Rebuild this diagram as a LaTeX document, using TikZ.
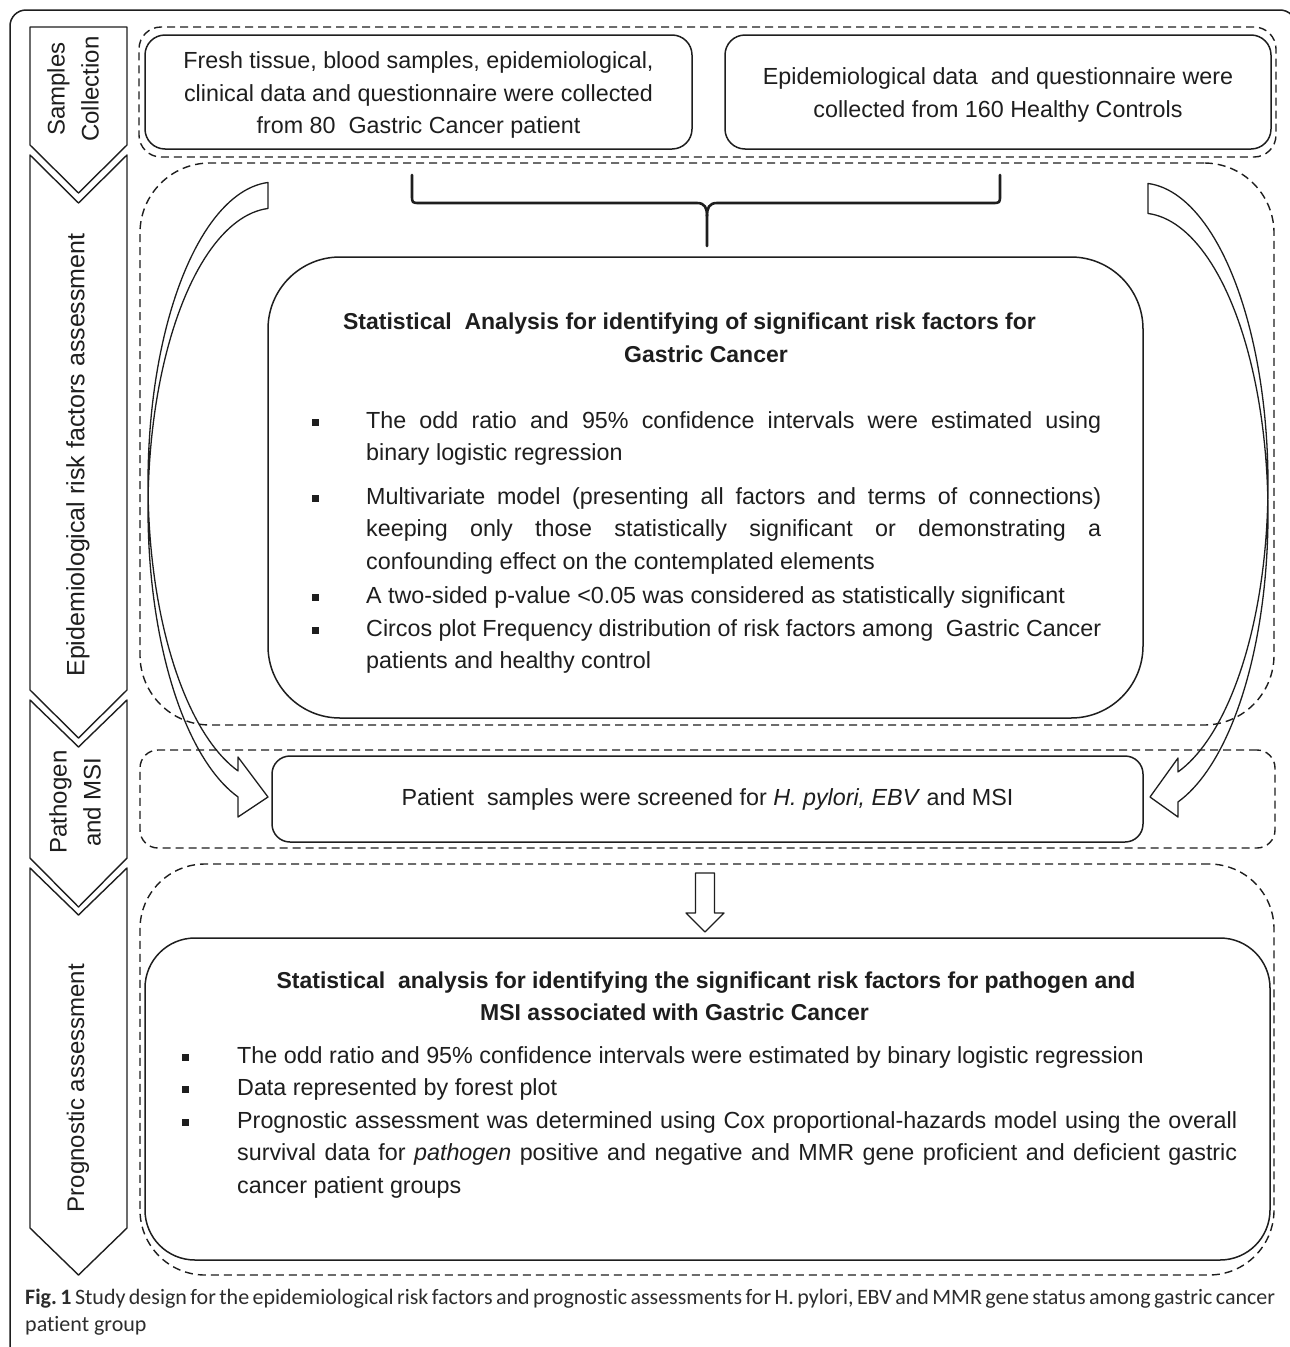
\documentclass[tikz,border=0pt]{standalone}
\usepackage{fontspec}
\setmainfont{Liberation Sans}
\newfontfamily\capfont[Ligatures=NoCommon]{Carlito}
\definecolor{ink}{RGB}{30,30,30}
\definecolor{capink}{RGB}{45,45,45}
\hyphenpenalty=10000
\exhyphenpenalty=10000
\frenchspacing
\newcommand{\mainsz}{\fontsize{23.3pt}{32.5pt}\selectfont}
\newcommand{\titsz}{\fontsize{23pt}{32.5pt}\selectfont\bfseries}
\newcommand{\chevsz}{\fontsize{24pt}{34pt}\selectfont}
\newlength{\bhang}
\newcommand{\bsq}{\raisebox{2.5pt}{\rule{7pt}{7pt}}}
\newcommand{\bitem}[1]{\par\noindent\hangindent=\bhang\hangafter=1\makebox[\bhang][l]{\bsq}#1\par}
\begin{document}
\begin{tikzpicture}[x=1pt,y=-1pt,line join=round,
  sbox/.style={draw=ink,line width=1.5pt,inner sep=0pt,text=ink},
  dbox/.style={draw=ink,line width=1.4pt,dash pattern=on 8pt off 5pt,inner sep=0pt},
  chev/.style={draw=ink,line width=1.4pt},
  carrow/.style={draw=ink,line width=1.3pt},
  brace/.style={draw=ink,line width=2.6pt,line cap=round},
  txt/.style={inner sep=0pt,text=ink}]
\useasboundingbox (0,0) rectangle (1290,1347);
\fill[white] (0,0) rectangle (1290,1347);
\clip (0,0) rectangle (1290,1347);

% outer frame
\draw[ink,line width=1.5pt,rounded corners=16pt] (10,1360) -- (10,10) -- (1296,10) -- (1296,1360);

% left chevrons
\draw[chev] (30,27) -- (127,27) -- (127,145) -- (78.5,193) -- (30,145) -- cycle;
\draw[chev] (30,155) -- (78.5,203) -- (127,155) -- (127,690) -- (78.5,738) -- (30,690) -- cycle;
\draw[chev] (30,700) -- (78.5,747) -- (127,700) -- (127,858) -- (78.5,907) -- (30,858) -- cycle;
\draw[chev] (30,868) -- (78.5,915) -- (127,868) -- (127,1228) -- (78.5,1275) -- (30,1228) -- cycle;
\node[txt,rotate=90,align=center,font=\chevsz] (c1) at (73,89) {Samples\\Collection};
\node[txt,rotate=90,font=\fontsize{25pt}{34pt}\selectfont] (c2) at (78,455) {Epidemiological risk factors assessment};
\node[txt,rotate=90,align=center,font=\chevsz] (c3) at (75,802) {Pathogen\\and MSI};
\node[txt,rotate=90,font=\chevsz] (c4) at (78,1088) {Prognostic assessment};

% dashed regions
\node[dbox,rounded corners=22pt,minimum width=1137pt,minimum height=130pt] (d1) at (707.5,92) {};
\node[dbox,rounded corners=70pt,minimum width=1134pt,minimum height=562pt] (d2) at (707,444) {};
\node[dbox,rounded corners=18pt,minimum width=1135pt,minimum height=98pt] (d3) at (707.5,799) {};
\node[dbox,rounded corners=65pt,minimum width=1134pt,minimum height=411pt] (d4) at (707,1069.5) {};

% top boxes
\node[sbox,rounded corners=20pt,minimum width=547pt,minimum height=114pt,align=center,font=\mainsz] (tl) at (418.5,92) {};
\node[txt,align=center,font=\mainsz] (tlt) at (418.5,95)
  {Fresh tissue, blood samples, epidemiological,\\clinical data and questionnaire were collected\\from 80\ \ Gastric Cancer patient};
\node[sbox,rounded corners=20pt,minimum width=546pt,minimum height=114pt,align=center,font=\mainsz] (tr) at (998,92) {};
\node[txt,align=center,font=\mainsz] (trt) at (998,95)
  {Epidemiological data\ \ and questionnaire were\\collected from 160 Healthy Controls};

% brace
\draw[brace] (412,175) -- (412,195) .. controls (412,203) .. (420,203) -- (697,203) .. controls (705,203) and (707,208) .. (707,216) -- (707,246);
\draw[brace] (1000,175) -- (1000,195) .. controls (1000,203) .. (992,203) -- (717,203) .. controls (709,203) and (707,208) .. (707,216);

% big box 1
\node[sbox,rounded corners=72pt,minimum width=875pt,minimum height=461pt] (b1) at (705.5,487.5) {};
\node[txt,align=center,font=\titsz] (t1) at (689.5,338)
  {Statistical\ \ Analysis for identifying of significant risk factors for\\\hspace*{33pt}Gastric Cancer};
\node[txt,anchor=north west,text width=789pt,align=justify,font=\mainsz] (l1) at (312,395.5)
  {\setlength{\bhang}{54pt}%
   \bitem{\rule{0pt}{18pt}The odd ratio and 95\% confidence intervals were estimated using\linebreak binary logistic regression}\vspace{11pt}%
   \bitem{Multivariate model (presenting all factors and terms of connections)\linebreak keeping only those statistically significant or demonstrating a\linebreak confounding effect on the contemplated elements}\vspace{2pt}%
   \bitem{A two-sided p-value <0.05 was considered as statistically significant}%
   \bitem{Circos plot Frequency distribution of risk factors among\ \ Gastric Cancer\linebreak patients and healthy control}};

% curved arrows
\draw[carrow] plot[domain=266.84:106.94,samples=90] ({275+127*cos(\x)},{483+301*sin(\x)})
  -- (238,757) -- (268,797) -- (238,817)
  -- plot[domain=106.94:266.84,samples=90] ({275+127*cos(\x)},{509+301*sin(\x)}) -- cycle;
\draw[carrow] plot[domain=273.16:433.06,samples=90] ({1141+127*cos(\x)},{484+301*sin(\x)})
  -- (1178,758) -- (1150,797) -- (1178,817)
  -- plot[domain=433.06:273.16,samples=90] ({1141+127*cos(\x)},{514+301*sin(\x)}) -- cycle;

% box 3
\node[sbox,rounded corners=18pt,minimum width=871pt,minimum height=86pt,font=\mainsz] (b3) at (707.5,799)
  {Patient\ \ samples were screened for \textit{H. pylori, EBV} and MSI};

% hollow down arrow
\draw[ink,line width=1.3pt] (695.5,873) -- (714.5,873) -- (714.5,913) -- (724,913) -- (705,932) -- (686,913) -- (695.5,913) -- cycle;

% big box 2
\node[sbox,rounded corners=50pt,minimum width=1125pt,minimum height=322pt] (b4) at (707.5,1099) {};
\node[txt,align=center,font=\titsz] (t2) at (706,996.5)
  {Statistical\ \ analysis for identifying the significant risk factors for pathogen and\\\hspace*{-63pt}MSI associated with Gastric Cancer};
\node[txt,anchor=north west,text width=1055pt,align=justify,font=\mainsz] (l2) at (182,1030.5)
  {\setlength{\bhang}{55pt}%
   \bitem{\rule{0pt}{18pt}The odd ratio and 95\% confidence intervals were estimated by binary logistic regression}%
   \bitem{Data represented by forest plot}%
   \bitem{Prognostic assessment was determined using Cox proportional-hazards model using the overall\linebreak survival data for \textit{pathogen} positive and negative and MMR gene proficient and deficient gastric\linebreak cancer patient groups}};

% caption
\node[inner sep=0pt,anchor=north west,text width=1250pt,align=justify,text=capink,font=\capfont\fontsize{22pt}{27pt}\selectfont] (cap) at (25,1288)
  {\rule{0pt}{16pt}\textbf{Fig. 1} Study design for the epidemiological risk factors and prognostic assessments for H. pylori, EBV and MMR gene status among gastric cancer\linebreak patient group\par};
\end{tikzpicture}
\end{document}
